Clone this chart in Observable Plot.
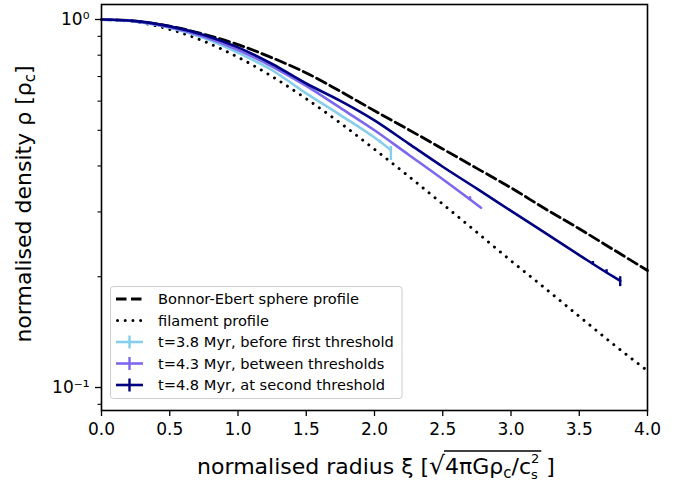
<!DOCTYPE html>
<html><head><meta charset="utf-8">
<script src="https://cdn.jsdelivr.net/npm/d3@7"></script>
<script src="https://cdn.jsdelivr.net/npm/@observablehq/plot@0.6"></script>
<style>
body{margin:0;background:#fff}
svg{font-family:"DejaVu Sans",sans-serif}
</style>
</head><body><div id="chart"></div>
<script>
// ---- data ----
const xiGrid = [0,0.25,0.5,0.75,1,1.25,1.5,1.75,2,2.25,2.5,2.75,3,3.25,3.5,3.75,4];
const beRho  = [1,0.990,0.959,0.912,0.855,0.787,0.716,0.638,0.565,0.502,0.445,0.394,0.349,0.306,0.270,0.237,0.208];
const filRho = [1,0.985,0.940,0.873,0.790,0.700,0.609,0.523,0.444,0.375,0.315,0.264,0.221,0.186,0.156,0.131,0.111];

const t38Xi  = [0,0.25,0.5,0.75,1,1.25,1.5,1.75,2,2.12];
const t38Rho = [1,0.987,0.950,0.890,0.812,0.728,0.630,0.550,0.478,0.442];
const t43Xi  = [0,0.25,0.5,0.75,1,1.25,1.5,1.75,2,2.25,2.5,2.78];
const t43Rho = [1,0.988,0.953,0.898,0.826,0.745,0.660,0.575,0.500,0.429,0.368,0.308];
const t48Xi  = [0,0.25,0.5,0.75,1,1.25,1.5,1.75,2,2.25,2.5,2.75,3,3.25,3.5,3.75,3.8];
const t48Rho = [1,0.990,0.958,0.908,0.840,0.757,0.670,0.601,0.532,0.460,0.398,0.347,0.302,0.263,0.229,0.200,0.195];

// error bars: series index, xi, low, high
const errSeries = [0,0,1,2,2,2];
const errXi     = [2.12,2.04,2.70,3.60,3.70,3.80];
const errLo     = [0.414,0.461,0.322,0.215,0.204,0.188];
const errHi     = [0.452,0.470,0.330,0.220,0.209,0.200];

const seriesColors = ["#87CEEB","#7B68EE","#000080"];
const legendLabels = ["Bonnor-Ebert sphere profile","filament profile",
  "t=3.8 Myr, before first threshold","t=4.3 Myr, between thresholds","t=4.8 Myr, at second threshold"];

const xTicks = [0,0.5,1,1.5,2,2.5,3,3.5,4];
const yMajor = [1,0.1];
const yMajorLabels = ["10⁰","10⁻¹"];
const yMinor = [0.09,0.2,0.3,0.4,0.5,0.6,0.7,0.8,0.9];

// ---- tables ----
const toRows = (xs, ys) => xs.map((x,i)=>({xi:x, rho:ys[i]}));
const beData = toRows(xiGrid, beRho);
const filData = toRows(xiGrid, filRho);
const sims = [toRows(t38Xi,t38Rho), toRows(t43Xi,t43Rho), toRows(t48Xi,t48Rho)];
const errData = errXi.map((x,i)=>({xi:x, lo:errLo[i], hi:errHi[i], c:seriesColors[errSeries[i]]}));

const DASH = "10.5,4.5", DOT = "0.01,7.7";

const chart = Plot.plot({
  width: 687, height: 482,
  marginLeft: 101, marginRight: 40, marginTop: 4, marginBottom: 72,
  style: {fontFamily:'"DejaVu Sans", sans-serif', background:"white", color:"black", fontSize:"17px"},
  x: {domain:[0,4]},
  y: {type:"log", domain:[0.0866,1.0985]},
  marks: [
    Plot.line(beData, {x:"xi", y:"rho", stroke:"black", strokeWidth:2.8, strokeDasharray:DASH, curve:"monotone-x"}),
    Plot.line(filData, {x:"xi", y:"rho", stroke:"black", strokeWidth:3, strokeDasharray:DOT, strokeLinecap:"round", curve:"monotone-x"}),
    ...sims.map((d,i)=>Plot.line(d, {x:"xi", y:"rho", stroke:seriesColors[i], strokeWidth:2.6, curve:"monotone-x"})),
    Plot.ruleX(errData, {x:"xi", y1:"lo", y2:"hi", stroke:"c", strokeWidth:2.4}),
    Plot.axisX({ticks:xTicks, tickFormat:d=>d.toFixed(1), tickSize:6, tickPadding:6, label:null, strokeWidth:1.3}),
    Plot.axisY({ticks:yMajor, tickFormat:d=>yMajorLabels[yMajor.indexOf(d)], tickSize:6, tickPadding:6, label:null, strokeWidth:1.3}),
    Plot.axisY({ticks:yMinor, tickFormat:null, text:null, tickSize:3.5, label:null, strokeWidth:1.1}),
    Plot.frame({stroke:"black", strokeWidth:1.6})
  ]
});
document.getElementById("chart").appendChild(chart);

const svg = d3.select(chart);
svg.selectAll('g[aria-label$="tick label"]').attr("font-size",17).selectAll("text").attr("font-size",17).attr("fill","black");

// ---- legend ----
const lg = svg.append("g").attr("text-anchor","start");
lg.append("rect").attr("x",110.5).attr("y",286.5).attr("width",291.5).attr("height",112)
  .attr("rx",3).attr("fill","white").attr("fill-opacity",0.8).attr("stroke","#cccccc").attr("stroke-width",1);
legendLabels.forEach((lab,i)=>{
  const cy = 299 + i*21.5;
  if (i===0) {
    lg.append("line").attr("x1",116).attr("x2",143).attr("y1",cy).attr("y2",cy)
      .attr("stroke","black").attr("stroke-width",2.8).attr("stroke-dasharray",DASH);
  } else if (i===1) {
    lg.append("line").attr("x1",117.5).attr("x2",143).attr("y1",cy).attr("y2",cy)
      .attr("stroke","black").attr("stroke-width",3).attr("stroke-linecap","round").attr("stroke-dasharray",DOT);
  } else {
    const c = seriesColors[i-2];
    lg.append("line").attr("x1",116).attr("x2",143).attr("y1",cy).attr("y2",cy).attr("stroke",c).attr("stroke-width",2.6);
    lg.append("line").attr("x1",129.5).attr("x2",129.5).attr("y1",cy-6.5).attr("y2",cy+6.5).attr("stroke",c).attr("stroke-width",2.4);
  }
  lg.append("text").attr("x",158).attr("y",cy).attr("dy","0.36em").attr("text-anchor","start")
    .attr("font-size",14.6).attr("fill","black").text(lab);
});

// ---- x label with radical ----
const xl = svg.append("text").attr("x",376).attr("y",474).attr("text-anchor","middle")
  .attr("font-size",22).attr("fill","black");
xl.append("tspan").text("normalised radius ξ [");
xl.append("tspan").attr("font-size",25).text("√");
xl.append("tspan").text("4πGρ");
xl.append("tspan").attr("font-size",15).attr("dy",4).text("c");
xl.append("tspan").attr("dy",-4).text("/c");
xl.append("tspan").attr("font-size",13).attr("dy",5).text("s");
xl.append("tspan").attr("font-size",13).attr("dx",-6.8).attr("dy",-16).text("2");
xl.append("tspan").attr("dy",11).text(" ]");
{
  const node = xl.node();
  const full = node.textContent;
  const iRad = full.indexOf("√");
  const iEnd = full.lastIndexOf("2");
  const x0 = node.getEndPositionOfChar(iRad).x - 1;
  const x1 = node.getEndPositionOfChar(iEnd).x + 2;
  svg.append("line").attr("x1",x0).attr("x2",x1).attr("y1",451).attr("y2",451)
    .attr("stroke","black").attr("stroke-width",1.3);
}

// ---- y label ----
const yl = svg.append("text").attr("transform","translate(31,204) rotate(-90)")
  .attr("text-anchor","middle").attr("font-size",22).attr("fill","black");
yl.append("tspan").text("normalised density ρ [ρ");
yl.append("tspan").attr("font-size",15).attr("dy",4).text("c");
yl.append("tspan").attr("dy",-4).text("]");
</script>
</body></html>
